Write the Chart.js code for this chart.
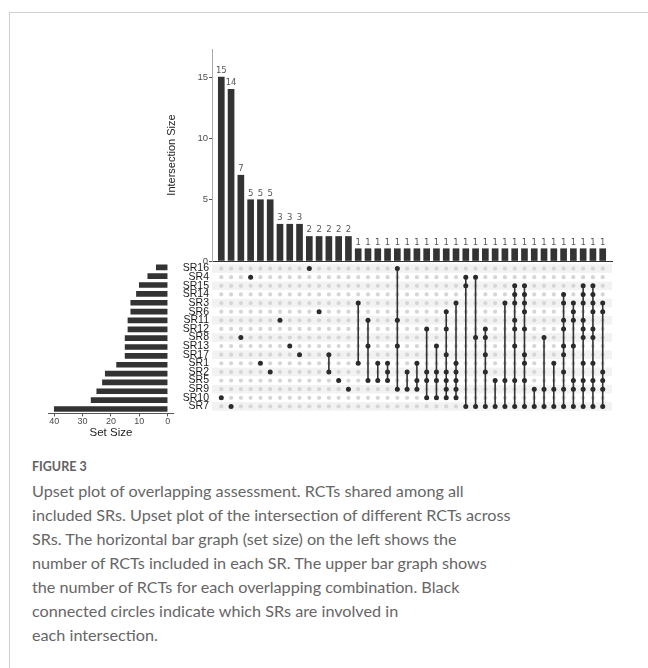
<!DOCTYPE html>
<html>
<head>
<meta charset="utf-8">
<script src="https://cdn.jsdelivr.net/npm/chart.js@4"></script>
<style>
  html, body { margin: 0; padding: 0; background: #fff; }
  #page { position: relative; width: 648px; height: 668px; overflow: hidden; }
  #card { position: absolute; left: 9px; top: 12px; width: 700px; height: 700px;
          border-top: 1px solid #d0d0d0; border-left: 1px solid #d0d0d0; }
  canvas { position: absolute; }
  #figLabel { position: absolute; left: 32px; top: 459px; font: bold 12.5px Lato, sans-serif; color: #616161; }
  #caption { position: absolute; left: 32px; top: 479px; font: 16.2px Lato, sans-serif; line-height: 24px;
             color: #666; white-space: nowrap; }
</style>
</head>
<body>
<div id="page">
  <div id="card"></div>
  <canvas id="setChart" width="140" height="190" style="left:40px;top:255px"></canvas>
  <canvas id="matrixChart" width="470" height="165" style="left:150px;top:255px"></canvas>
  <canvas id="barChart" width="470" height="230" style="left:150px;top:40px"></canvas>
  <div id="figLabel">FIGURE 3</div>
  <div id="caption">Upset plot of overlapping assessment. RCTs shared among all<br>included SRs. Upset plot of the intersection of different RCTs across<br>SRs. The horizontal bar graph (set size) on the left shows the<br>number of RCTs included in each SR. The upper bar graph shows<br>the number of RCTs for each overlapping combination. Black<br>connected circles indicate which SRs are involved in<br>each intersection.</div>
</div>
<script>
// sets, top to bottom
const setNames = ['SR16', 'SR4', 'SR15', 'SR14', 'SR3', 'SR6', 'SR11', 'SR12', 'SR8',
                  'SR13', 'SR17', 'SR1', 'SR2', 'SR5', 'SR9', 'SR10', 'SR7'];
const setSizes = [4, 7, 10, 11, 13, 13, 14, 14, 15, 15, 15, 18, 22, 23, 25, 27, 40];

// intersections, left to right
const intersectionSizes = [15, 14, 7, 5, 5, 5, 3, 3, 3, 2, 2, 2, 2, 2,
                           1, 1, 1, 1, 1, 1, 1, 1, 1, 1, 1, 1, 1, 1, 1, 1, 1, 1, 1, 1, 1, 1, 1, 1, 1, 1];
const intersectionSets = [
    ['SR10'], ['SR7'], ['SR8'], ['SR4'], ['SR1'], ['SR2'], ['SR11'], ['SR13'], ['SR17'], ['SR16'],
    ['SR6'], ['SR17', 'SR2'], ['SR5'], ['SR9'], ['SR3', 'SR1'],
    ['SR11', 'SR13', 'SR5'],
    ['SR1', 'SR5'],
    ['SR1', 'SR2', 'SR5'],
    ['SR16', 'SR11', 'SR13', 'SR9'],
    ['SR2', 'SR9'],
    ['SR1', 'SR5', 'SR9'],
    ['SR12', 'SR2', 'SR5', 'SR10'],
    ['SR13', 'SR2', 'SR5', 'SR10'],
    ['SR6', 'SR12', 'SR17', 'SR2', 'SR5', 'SR9', 'SR10'],
    ['SR3', 'SR1', 'SR2', 'SR5', 'SR9', 'SR10'],
    ['SR4', 'SR15', 'SR7'],
    ['SR4', 'SR8', 'SR7'],
    ['SR12', 'SR8', 'SR17', 'SR2', 'SR7'],
    ['SR5', 'SR7'],
    ['SR3', 'SR5', 'SR7'],
    ['SR15', 'SR14', 'SR3', 'SR11', 'SR12', 'SR13', 'SR5', 'SR7'],
    ['SR15', 'SR14', 'SR3', 'SR6', 'SR12', 'SR17', 'SR1', 'SR5', 'SR7'],
    ['SR9', 'SR7'],
    ['SR8', 'SR9', 'SR7'],
    ['SR1', 'SR9', 'SR7'],
    ['SR14', 'SR3', 'SR11', 'SR12', 'SR13', 'SR17', 'SR2', 'SR9', 'SR7'],
    ['SR3', 'SR6', 'SR11', 'SR13', 'SR5', 'SR9', 'SR7'],
    ['SR15', 'SR14', 'SR3', 'SR11', 'SR12', 'SR8', 'SR1', 'SR5', 'SR9', 'SR7'],
    ['SR15', 'SR14', 'SR3', 'SR6', 'SR12', 'SR8', 'SR1', 'SR5', 'SR9', 'SR7'],
    ['SR3', 'SR6', 'SR2', 'SR5', 'SR9', 'SR7']
];

const yTicksTop = [0, 5, 10, 15];
const xTicksSet = [0, 10, 20, 30, 40];

Chart.defaults.font.family = "'Liberation Sans', Arial, sans-serif";
Chart.defaults.animation = false;
Chart.defaults.responsive = false;
Chart.defaults.plugins.legend.display = false;
Chart.defaults.plugins.tooltip.enabled = false;

const xMin = -0.95, xMax = 39.95;

// numeros em cima das barras
const barLabels = {
    id: 'barLabels',
    afterDatasetsDraw(chart) {
        const ctx = chart.ctx;
        const meta = chart.getDatasetMeta(0);
        ctx.save();
        ctx.font = "8.5px 'DejaVu Sans', sans-serif";
        ctx.fillStyle = '#555';
        ctx.textAlign = 'center';
        ctx.textBaseline = 'bottom';
        meta.data.forEach((bar, i) => {
            ctx.fillText(intersectionSizes[i], bar.x, bar.y - 2);
        });
        ctx.restore();
    }
};

new Chart(document.getElementById('barChart'), {
    type: 'bar',
    data: {
        datasets: [{
            data: intersectionSizes.map((v, i) => ({ x: i, y: v })),
            backgroundColor: '#333',
            barThickness: 6
        }]
    },
    options: {
        layout: { padding: { top: 9, right: 8, bottom: 9, left: 0 } },
        scales: {
            x: {
                type: 'linear', min: xMin, max: xMax, offset: false,
                ticks: { display: false },
                grid: { display: false },
                border: { display: true, color: '#333', width: 1 },
                afterFit(scale) { scale.height = 0; }
            },
            y: {
                min: 0, max: 17.3,
                afterBuildTicks(scale) { scale.ticks = yTicksTop.map(v => ({ value: v })); },
                ticks: { color: '#4d4d4d', font: { size: 9.5 }, padding: 1 },
                grid: { drawOnChartArea: false, tickLength: 3, color: '#555' },
                border: { display: true, color: '#aaa', width: 1 },
                title: { display: true, text: 'Intersection Size', color: '#222', font: { size: 11 }, padding: { top: 15 } },
                afterFit(scale) { scale.width = 62; }
            }
        }
    },
    plugins: [barLabels]
});

// faixas alternadas na matriz
const stripes = {
    id: 'stripes',
    beforeDatasetsDraw(chart) {
        const ctx = chart.ctx, area = chart.chartArea, y = chart.scales.y;
        const h = (area.bottom - area.top) / setNames.length;
        ctx.save();
        ctx.fillStyle = '#f2f2f2';
        setNames.forEach((name, i) => {
            if (i % 2 === 0) {
                const py = y.getPixelForValue(i);
                ctx.fillRect(area.left, py - h / 2, area.right - area.left, h);
            }
        });
        ctx.restore();
    }
};

const gridPoints = [];
intersectionSets.forEach((s, i) => setNames.forEach(n => gridPoints.push({ x: i, y: n })));

const memberPoints = [];
intersectionSets.forEach((s, i) => s.forEach(n => memberPoints.push({ x: i, y: n })));

const lineSets = [];
intersectionSets.forEach((s, i) => {
    if (s.length < 2) return;
    const idx = s.map(n => setNames.indexOf(n));
    const top = setNames[Math.min(...idx)], bottom = setNames[Math.max(...idx)];
    lineSets.push({
        type: 'line',
        data: [{ x: i, y: top }, { x: i, y: bottom }],
        borderColor: '#333',
        borderWidth: 1.6,
        pointRadius: 0,
        order: 2
    });
});

new Chart(document.getElementById('matrixChart'), {
    type: 'scatter',
    data: {
        datasets: [
            { data: gridPoints, pointRadius: 2.1, pointBackgroundColor: '#d6d6d6', pointBorderWidth: 0, order: 3 },
            ...lineSets,
            { data: memberPoints, pointRadius: 2.5, pointBackgroundColor: '#2b2b2b', pointBorderWidth: 0, order: 1 }
        ]
    },
    options: {
        layout: { padding: { top: 7.9, right: 8, bottom: 6.6, left: 0 } },
        scales: {
            x: { type: 'linear', min: xMin, max: xMax, display: false },
            y: {
                type: 'category', labels: setNames, offset: true,
                ticks: { color: '#1a1a1a', font: { size: 10.5 }, padding: 3, autoSkip: false },
                grid: { display: false, drawTicks: false },
                border: { display: false },
                afterFit(scale) { scale.width = 62; }
            }
        }
    },
    plugins: [stripes]
});

new Chart(document.getElementById('setChart'), {
    type: 'bar',
    data: {
        labels: setNames,
        datasets: [{ data: setSizes, backgroundColor: '#333', barThickness: 5 }]
    },
    options: {
        indexAxis: 'y',
        layout: { padding: { top: 7.9, right: 6.7, bottom: 3.6, left: 8.6 } },
        scales: {
            y: { display: false, offset: true },
            x: {
                reverse: true, min: -2, max: 42,
                afterBuildTicks(scale) { scale.ticks = xTicksSet.map(v => ({ value: v })); },
                ticks: { color: '#4d4d4d', font: { size: 9 }, padding: 0, maxRotation: 0 },
                grid: { drawOnChartArea: false, tickLength: 3, color: '#555' },
                border: { display: true, color: '#555', width: 1 },
                title: { display: true, text: 'Set Size', color: '#222', font: { size: 11.5 }, padding: { top: 0, bottom: 2 } },
                afterFit(scale) { scale.height = 28; }
            }
        }
    }
});
</script>
</body>
</html>
